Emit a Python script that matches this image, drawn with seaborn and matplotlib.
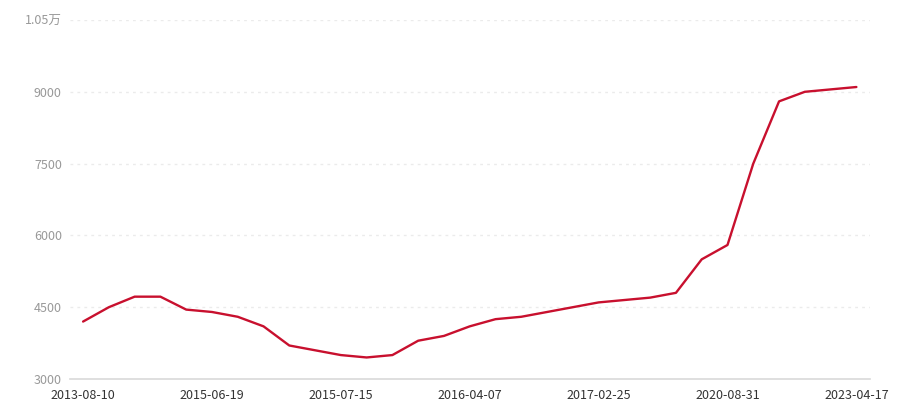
import matplotlib
matplotlib.use("Agg")
import matplotlib.pyplot as plt
import seaborn as sns
import pandas as pd
from matplotlib.ticker import FixedLocator

# data (31 points, every 5th labelled)
values = [4200, 4500, 4720, 4720, 4450, 4400, 4300, 4100, 3700, 3600,
          3500, 3450, 3500, 3800, 3900, 4100, 4250, 4300, 4400, 4500,
          4600, 4650, 4700, 4800, 5500, 5800, 7500, 8800, 9000, 9050,
          9100]
tick_labels = ["2013-08-10", "2015-06-19", "2015-07-15", "2016-04-07",
               "2017-02-25", "2020-08-31", "2023-04-17"]
y_ticks = [3000, 4500, 6000, 7500, 9000, 10500]
y_tick_labels = ["3000", "4500", "6000", "7500", "9000", "1.05万"]

df = pd.DataFrame({"idx": range(len(values)), "value": values})

sns.set_style("white")
plt.rcParams["font.family"] = ["Noto Sans CJK SC", "DejaVu Sans"]

fig = plt.figure(figsize=(9, 4), dpi=100)
ax = fig.add_axes([0.078, 0.0525, 0.889, 0.8975])

sns.lineplot(data=df, x="idx", y="value", color="#C8102E", linewidth=1.7, ax=ax)

ax.set_xlim(-0.5, len(values) - 0.46)
ax.set_ylim(3000, 10500)
ax.set_yticks(y_ticks)
ax.set_yticklabels(y_tick_labels, color="#999999", fontsize=9)
ax.xaxis.set_major_locator(FixedLocator(list(range(0, len(values), 5))))
ax.set_xticklabels(tick_labels, color="#333333", fontsize=9)
ax.set_xlabel("")
ax.set_ylabel("")

# light dashed gridlines
for y in y_ticks[1:]:
    ax.axhline(y, color="#EBEBEB", linestyle=(0, (2, 3)), linewidth=1, zorder=0)

for s in ["top", "right", "left"]:
    ax.spines[s].set_visible(False)
ax.spines["bottom"].set_color("#D9D9D9")
ax.spines["bottom"].set_linewidth(1.2)
ax.tick_params(axis="x", length=5, width=1, color="#D9D9D9", pad=2)
ax.tick_params(axis="y", length=0, pad=6)

fig.savefig("out.png", dpi=100)
